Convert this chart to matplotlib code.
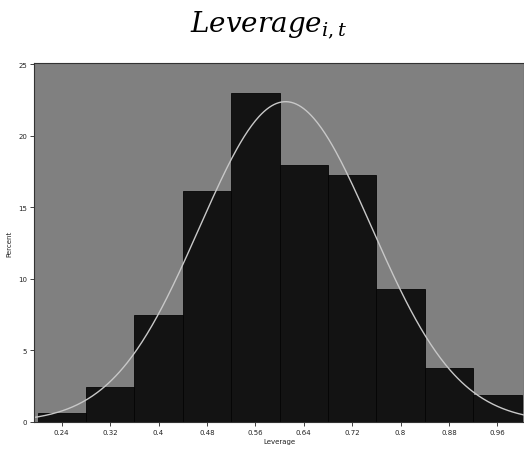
import numpy as np
import matplotlib
matplotlib.use("Agg")
import matplotlib.pyplot as plt

# Data
bin_edges = [0.2, 0.28, 0.36, 0.44, 0.52, 0.6, 0.68, 0.76, 0.84, 0.92, 1.0]
percents = [0.63, 2.47, 7.46, 16.15, 23.0, 18.0, 17.3, 9.28, 3.75, 1.89]
fit_mean = 0.61
fit_sd = 0.1425
xtick_vals = [0.24, 0.32, 0.4, 0.48, 0.56, 0.64, 0.72, 0.8, 0.88, 0.96]
xtick_labels = ["0.24", "0.32", "0.4", "0.48", "0.56", "0.64", "0.72", "0.8", "0.88", "0.96"]
ytick_vals = [0, 5, 10, 15, 20, 25]

plt.rcParams['mathtext.fontset'] = 'dejavuserif'

fig = plt.figure(figsize=(5.24, 4.52), dpi=100)
ax = fig.add_axes([34/524, 1-423/452, 1-34/524, (423-64)/452])
ax.set_facecolor('#808080')

lefts = np.array(bin_edges[:-1])
widths = np.diff(bin_edges)
ax.bar(lefts, percents, width=widths, align='edge', color='#131313',
       edgecolor='#050505', linewidth=0.6)

xs = np.linspace(0.19, 1.01, 400)
bw = widths[0]
ys = 100 * bw * np.exp(-0.5 * ((xs - fit_mean) / fit_sd) ** 2) / (fit_sd * np.sqrt(2 * np.pi))
ax.plot(xs, ys, color='#c8c8c8', linewidth=1.0)

ax.set_xlim(0.1942, 1.004)
ax.set_ylim(0, 25.1)
ax.set_xticks(xtick_vals)
ax.set_xticklabels(xtick_labels)
ax.set_yticks(ytick_vals)
ax.tick_params(axis='both', labelsize=5, colors='#222222', length=3, width=0.6, pad=2)
for s in ['left', 'top', 'bottom', 'right']:
    ax.spines[s].set_color('#333333')
    ax.spines[s].set_linewidth(0.8)
ax.set_xlabel('Leverage', fontsize=5, color='#222222', labelpad=2)
ax.set_ylabel('Percent', fontsize=5, color='#222222', labelpad=4)

fig.text(0.512, 0.945, r'$Leverage_{i,t}$', fontsize=20, ha='center', va='center', color='black')

fig.savefig('out.png', dpi=100)
